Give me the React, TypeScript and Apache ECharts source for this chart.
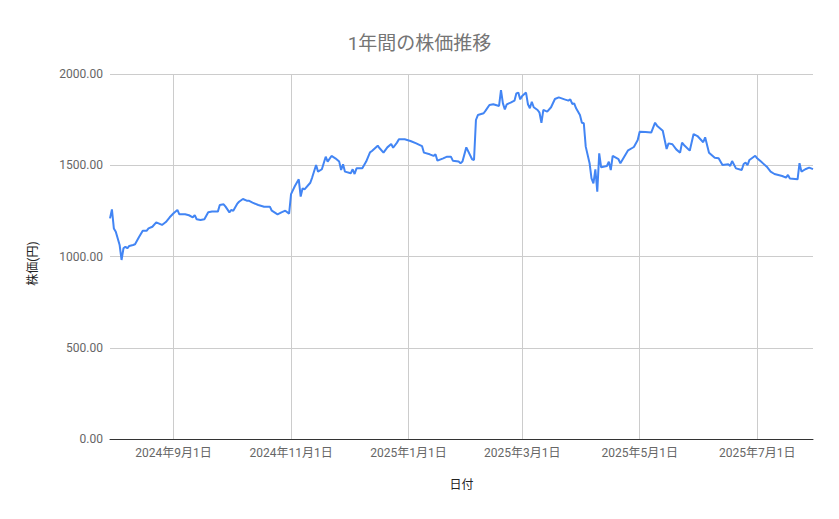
import React, { useEffect, useRef } from "react";
import * as echarts from "echarts";

const title = "1年間の株価推移";
const xAxisName = "日付";
const yAxisName = "株価(円)";

const dates: string[] = [
  "2024-07-30", "2024-07-31", "2024-08-01", "2024-08-02", "2024-08-04", "2024-08-05", "2024-08-06", "2024-08-07",
  "2024-08-08", "2024-08-09", "2024-08-11", "2024-08-12", "2024-08-14", "2024-08-16", "2024-08-18", "2024-08-19",
  "2024-08-21", "2024-08-23", "2024-08-26", "2024-08-28", "2024-08-30", "2024-09-01", "2024-09-03", "2024-09-04",
  "2024-09-07", "2024-09-09", "2024-09-11", "2024-09-12", "2024-09-13", "2024-09-15", "2024-09-17", "2024-09-19",
  "2024-09-21", "2024-09-24", "2024-09-25", "2024-09-27", "2024-09-28", "2024-09-30", "2024-10-01", "2024-10-02",
  "2024-10-04", "2024-10-05", "2024-10-07", "2024-10-09", "2024-10-10", "2024-10-12", "2024-10-15", "2024-10-18",
  "2024-10-21", "2024-10-22", "2024-10-25", "2024-10-27", "2024-10-29", "2024-10-31", "2024-11-01", "2024-11-03",
  "2024-11-05", "2024-11-06", "2024-11-07", "2024-11-08", "2024-11-11", "2024-11-12", "2024-11-14", "2024-11-15",
  "2024-11-17", "2024-11-19", "2024-11-20", "2024-11-22", "2024-11-24", "2024-11-26", "2024-11-27", "2024-11-28",
  "2024-11-29", "2024-12-02", "2024-12-03", "2024-12-04", "2024-12-05", "2024-12-08", "2024-12-10", "2024-12-12",
  "2024-12-13", "2024-12-16", "2024-12-17", "2024-12-19", "2024-12-21", "2024-12-23", "2024-12-24", "2024-12-26",
  "2024-12-27", "2024-12-30", "2025-01-02", "2025-01-05", "2025-01-08", "2025-01-09", "2025-01-12", "2025-01-14",
  "2025-01-15", "2025-01-16", "2025-01-19", "2025-01-21", "2025-01-23", "2025-01-24", "2025-01-27", "2025-01-28",
  "2025-01-29", "2025-01-31", "2025-02-03", "2025-02-04", "2025-02-05", "2025-02-06", "2025-02-09", "2025-02-10",
  "2025-02-12", "2025-02-14", "2025-02-17", "2025-02-18", "2025-02-19", "2025-02-20", "2025-02-21", "2025-02-23",
  "2025-02-25", "2025-02-26", "2025-02-27", "2025-02-28", "2025-03-01", "2025-03-03", "2025-03-04", "2025-03-05",
  "2025-03-06", "2025-03-07", "2025-03-09", "2025-03-10", "2025-03-11", "2025-03-12", "2025-03-14", "2025-03-16",
  "2025-03-18", "2025-03-20", "2025-03-23", "2025-03-25", "2025-03-26", "2025-03-27", "2025-03-28", "2025-03-29",
  "2025-03-31", "2025-04-01", "2025-04-02", "2025-04-03", "2025-04-05", "2025-04-06", "2025-04-07", "2025-04-08",
  "2025-04-09", "2025-04-10", "2025-04-11", "2025-04-14", "2025-04-15", "2025-04-16", "2025-04-17", "2025-04-20",
  "2025-04-21", "2025-04-23", "2025-04-25", "2025-04-28", "2025-04-30", "2025-05-01", "2025-05-04", "2025-05-07",
  "2025-05-09", "2025-05-10", "2025-05-13", "2025-05-15", "2025-05-16", "2025-05-18", "2025-05-20", "2025-05-22",
  "2025-05-23", "2025-05-24", "2025-05-27", "2025-05-29", "2025-05-31", "2025-06-03", "2025-06-04", "2025-06-06",
  "2025-06-09", "2025-06-11", "2025-06-13", "2025-06-16", "2025-06-17", "2025-06-18", "2025-06-20", "2025-06-23",
  "2025-06-24", "2025-06-25", "2025-06-26", "2025-06-27", "2025-06-30", "2025-07-01", "2025-07-03", "2025-07-06",
  "2025-07-08", "2025-07-10", "2025-07-14", "2025-07-16", "2025-07-17", "2025-07-18", "2025-07-22", "2025-07-23",
  "2025-07-24", "2025-07-26", "2025-07-28", "2025-07-30",
];

const prices: number[] = [
  1209, 1258, 1154, 1136, 1063, 981, 1045, 1054,
  1045, 1058, 1063, 1067, 1105, 1141, 1141, 1154,
  1163, 1187, 1173, 1189, 1215, 1237, 1255, 1231,
  1231, 1226, 1215, 1227, 1204, 1200, 1204, 1242,
  1246, 1246, 1282, 1286, 1273, 1242, 1255, 1251,
  1288, 1300, 1315, 1306, 1306, 1295, 1282, 1273,
  1273, 1251, 1231, 1242, 1251, 1235, 1342, 1386,
  1423, 1328, 1374, 1368, 1404, 1434, 1501, 1465,
  1478, 1547, 1520, 1551, 1538, 1520, 1474, 1505,
  1465, 1456, 1478, 1452, 1483, 1483, 1520, 1571,
  1578, 1607, 1593, 1569, 1598, 1616, 1596, 1624,
  1642, 1642, 1633, 1620, 1605, 1569, 1560, 1551,
  1560, 1525, 1538, 1547, 1547, 1525, 1520, 1511,
  1520, 1598, 1533, 1529, 1748, 1775, 1785, 1799,
  1830, 1834, 1825, 1912, 1839, 1806, 1834, 1843,
  1854, 1894, 1898, 1861, 1879, 1898, 1834, 1812,
  1848, 1818, 1803, 1788, 1733, 1803, 1794, 1818,
  1863, 1872, 1861, 1854, 1861, 1836, 1839, 1812,
  1775, 1733, 1730, 1602, 1511, 1428, 1401, 1478,
  1355, 1565, 1489, 1496, 1520, 1474, 1551, 1533,
  1511, 1547, 1582, 1600, 1638, 1684, 1682, 1679,
  1733, 1717, 1689, 1589, 1620, 1615, 1587, 1569,
  1624, 1611, 1580, 1671, 1660, 1626, 1653, 1569,
  1541, 1538, 1501, 1505, 1496, 1523, 1483, 1474,
  1507, 1514, 1501, 1529, 1552, 1538, 1520, 1492,
  1465, 1452, 1441, 1432, 1447, 1428, 1423, 1511,
  1465, 1478, 1487, 1479,
];

const xTickDates: string[] = [
  "2024-09-01", "2024-11-01", "2025-01-01", "2025-03-01", "2025-05-01", "2025-07-01",
];
const xMin = "2024-07-30";
const xMax = "2025-07-30";

const yMin = 0;
const yMax = 2000;
const yInterval = 500;

const FONT = "Roboto, 'Noto Sans CJK JP', 'Noto Sans', sans-serif";

function toTs(s: string): number {
  const [y, m, d] = s.split("-").map(Number);
  return Date.UTC(y, m - 1, d);
}

function fmtDate(v: number): string {
  const d = new Date(v);
  return `${d.getUTCFullYear()}年${d.getUTCMonth() + 1}月${d.getUTCDate()}日`;
}

export default function App() {
  const ref = useRef<HTMLDivElement>(null);

  useEffect(() => {
    document.body.style.margin = "0";
    if (!ref.current) return;
    const chart = echarts.init(ref.current, undefined, { renderer: "svg" });
    const tickTs = xTickDates.map(toTs);
    chart.setOption({
      animation: false,
      backgroundColor: "#ffffff",
      title: {
        text: title,
        left: "center",
        top: 29,
        textStyle: {
          fontFamily: FONT,
          fontSize: 19,
          fontWeight: "normal",
          color: "#757575",
        },
      },
      grid: { left: 110, right: 26, top: 74, bottom: 80 },
      xAxis: {
        type: "value",
        min: toTs(xMin),
        max: toTs(xMax),
        name: xAxisName,
        nameLocation: "middle",
        nameGap: 40,
        nameTextStyle: { fontFamily: FONT, fontSize: 12, color: "#222" },
        axisLine: { show: true, lineStyle: { color: "#333", width: 1 } },
        axisTick: { show: false, customValues: tickTs },
        axisLabel: {
          customValues: tickTs,
          fontFamily: FONT,
          fontSize: 12,
          color: "#666",
          margin: 8,
          formatter: (v: number) => fmtDate(v),
        },
        splitLine: { show: true, lineStyle: { color: "#cccccc", width: 1 } },
      },
      yAxis: {
        type: "value",
        min: yMin,
        max: yMax,
        interval: yInterval,
        name: yAxisName,
        nameLocation: "middle",
        nameGap: 71,
        nameTextStyle: {
          fontFamily: FONT,
          fontSize: 12,
          color: "#222",
          padding: [0, 14, 0, 0],
        },
        axisLine: { show: false },
        axisTick: { show: false },
        axisLabel: {
          fontFamily: FONT,
          fontSize: 12,
          color: "#666",
          margin: 7,
          formatter: (v: number) => v.toFixed(2),
        },
        splitLine: { show: true, lineStyle: { color: "#cccccc", width: 1 } },
      },
      series: [
        {
          type: "line",
          data: dates.map((d, i) => [toTs(d), prices[i]]),
          showSymbol: false,
          symbol: "none",
          lineStyle: { color: "#4285F4", width: 2 },
          itemStyle: { color: "#4285F4" },
        },
      ],
    });
    return () => chart.dispose();
  }, []);

  return (
    <div
      ref={ref}
      style={{ position: "fixed", left: 0, top: 0, width: "839px", height: "519px" }}
    />
  );
}
